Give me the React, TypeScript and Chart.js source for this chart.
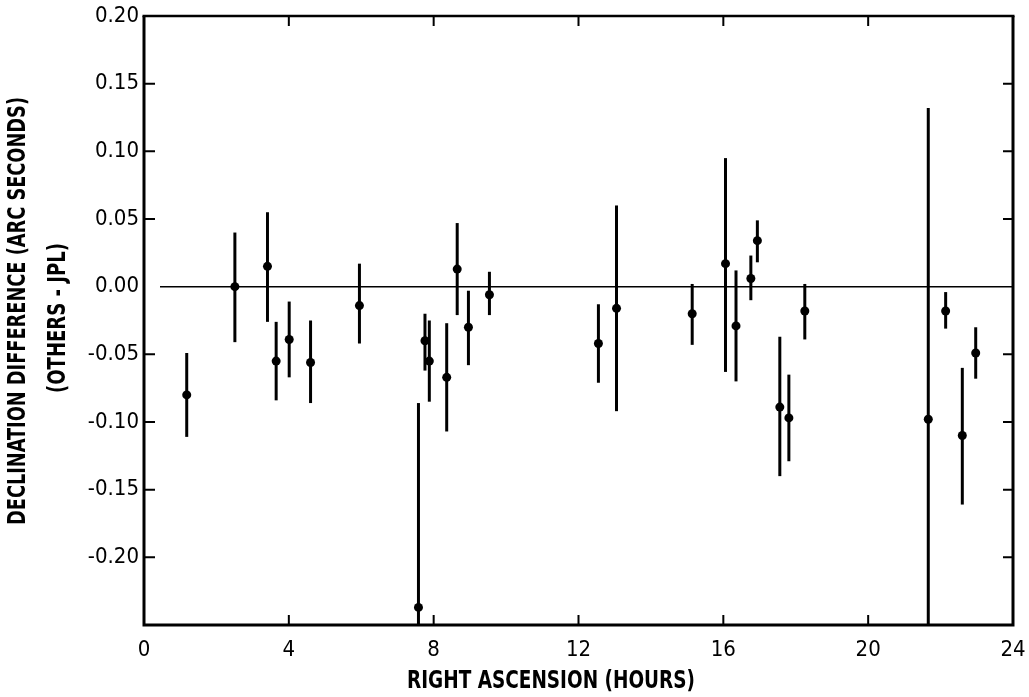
import React, { useEffect, useRef } from "react";
import { Chart, registerables } from "chart.js";

Chart.register(...registerables);

// Right ascension (hours) of each measurement
const raHours = [1.18, 2.51, 3.41, 3.65, 4.01, 4.6, 5.95, 7.58, 7.76, 7.88, 8.36, 8.65, 8.96, 9.54, 12.55, 13.05, 15.14, 16.06, 16.35, 16.76, 16.94, 17.56, 17.81, 18.25, 21.66, 22.14, 22.6, 22.97];
// Declination difference (arc seconds), others - JPL
const decDiff = [-0.08, 0.0, 0.015, -0.055, -0.039, -0.056, -0.014, -0.237, -0.04, -0.055, -0.067, 0.013, -0.03, -0.006, -0.042, -0.016, -0.02, 0.017, -0.029, 0.006, 0.034, -0.089, -0.097, -0.018, -0.098, -0.018, -0.11, -0.049];
// Error bar upper end
const errUpper = [-0.049, 0.04, 0.055, -0.026, -0.011, -0.025, 0.017, -0.086, -0.02, -0.025, -0.027, 0.047, -0.003, 0.011, -0.013, 0.06, 0.002, 0.095, 0.012, 0.023, 0.049, -0.037, -0.065, 0.002, 0.132, -0.004, -0.06, -0.03];
// Error bar lower end
const errLower = [-0.111, -0.041, -0.026, -0.084, -0.067, -0.086, -0.042, -0.25, -0.062, -0.085, -0.107, -0.021, -0.058, -0.021, -0.071, -0.092, -0.043, -0.063, -0.07, -0.01, 0.018, -0.14, -0.129, -0.039, -0.25, -0.031, -0.161, -0.068];

const xTicks = [0, 4, 8, 12, 16, 20, 24];
const yTicks = [0.2, 0.15, 0.1, 0.05, 0.0, -0.05, -0.1, -0.15, -0.2];
const yInnerTicks = [0.15, 0.1, 0.05, -0.05, -0.1, -0.15, -0.2];
const xInnerTicks = [4, 8, 12, 16, 20];

const xTitle = "RIGHT ASCENSION (HOURS)";
const yTitle1 = "DECLINATION DIFFERENCE (ARC SECONDS)";
const yTitle2 = "(OTHERS - JPL)";

const FONT = '"DejaVu Sans Condensed", "Liberation Sans Narrow", "DejaVu Sans", sans-serif';

function fitText(ctx: CanvasRenderingContext2D, text: string, cx: number, cy: number, width: number, size: number, rot: number) {
  ctx.save();
  ctx.font = `bold ${size}px ${FONT}`;
  const w = ctx.measureText(text).width;
  ctx.translate(cx, cy);
  ctx.rotate(rot);
  ctx.scale(width / w, 1);
  ctx.textAlign = "center";
  ctx.textBaseline = "middle";
  ctx.fillStyle = "#000";
  ctx.fillText(text, 0, 0);
  ctx.restore();
}

const framePlugin = {
  id: "framePlugin",
  beforeDatasetsDraw(chart: any) {
    const { ctx, chartArea, scales } = chart;
    const { left, right, top, bottom } = chartArea;
    const xs = scales.x;
    const ys = scales.y;
    ctx.save();
    ctx.strokeStyle = "#000";
    // zero line
    ctx.lineWidth = 1.5;
    ctx.beginPath();
    ctx.moveTo(left + 16, ys.getPixelForValue(0));
    ctx.lineTo(right, ys.getPixelForValue(0));
    ctx.stroke();
    // error bars
    ctx.lineWidth = 3;
    ctx.beginPath();
    ctx.rect(left, top, right - left, bottom - top);
    ctx.clip();
    for (let i = 0; i < raHours.length; i++) {
      const px = xs.getPixelForValue(raHours[i]);
      ctx.beginPath();
      ctx.moveTo(px, ys.getPixelForValue(errUpper[i]));
      ctx.lineTo(px, ys.getPixelForValue(errLower[i]));
      ctx.stroke();
    }
    ctx.restore();

    ctx.save();
    ctx.strokeStyle = "#000";
    ctx.lineWidth = 3;
    ctx.beginPath();
    ctx.moveTo(left, top);
    ctx.lineTo(left, bottom);
    ctx.lineTo(right, bottom);
    ctx.lineTo(right, top);
    ctx.stroke();
    ctx.lineWidth = 2.5;
    ctx.beginPath();
    ctx.moveTo(left - 1.5, top);
    ctx.lineTo(right + 1.5, top);
    ctx.stroke();
    ctx.lineWidth = 2;
    ctx.beginPath();
    for (const v of yInnerTicks) {
      const py = ys.getPixelForValue(v);
      ctx.moveTo(left, py);
      ctx.lineTo(left + 11, py);
      ctx.moveTo(right, py);
      ctx.lineTo(right - 10, py);
    }
    for (const v of xInnerTicks) {
      const px = xs.getPixelForValue(v);
      ctx.moveTo(px, bottom);
      ctx.lineTo(px, bottom - 10);
      ctx.moveTo(px, top);
      ctx.lineTo(px, top + 10);
    }
    ctx.stroke();
    ctx.restore();

    // titles
    fitText(ctx, xTitle, 551, 682, 288, 24, 0);
    fitText(ctx, yTitle1, 19, 311, 428, 24, -Math.PI / 2);
    fitText(ctx, yTitle2, 59, 318, 150, 24, -Math.PI / 2);
  },
};

export default function App() {
  const ref = useRef<HTMLCanvasElement>(null);
  useEffect(() => {
    document.body.style.margin = "0";
    const canvas = ref.current;
    if (!canvas) return;
    const points = raHours.map((x, i) => ({ x, y: decDiff[i] }));
    const chart = new Chart(canvas, {
      type: "scatter",
      data: {
        datasets: [
          {
            data: points,
            pointRadius: 4.5,
            pointBackgroundColor: "#000",
            pointBorderColor: "#000",
            pointBorderWidth: 0,
            showLine: false,
          },
        ],
      },
      options: {
        animation: false,
        responsive: false,
        devicePixelRatio: 1,
        layout: { padding: { left: 0, top: 16, right: 16, bottom: 0 } },
        plugins: { legend: { display: false }, tooltip: { enabled: false } },
        scales: {
          x: {
            type: "linear",
            min: 0,
            max: 24,
            afterBuildTicks: (s: any) => {
              s.ticks = xTicks.map((v) => ({ value: v }));
            },
            afterFit: (s: any) => {
              s.height = 72;
              s.paddingLeft = 0;
              s.paddingRight = 0;
            },
            grid: { display: false, drawTicks: false },
            border: { display: false },
            ticks: {
              padding: 12,
              color: "#000",
              font: { family: FONT, size: 22 },
              maxRotation: 0,
              autoSkip: false,
              callback: (v: any) => String(v),
            },
          },
          y: {
            type: "linear",
            min: -0.25,
            max: 0.2,
            afterBuildTicks: (s: any) => {
              s.ticks = yTicks.map((v) => ({ value: v }));
            },
            afterFit: (s: any) => {
              s.width = 144;
              s.paddingTop = 0;
              s.paddingBottom = 0;
            },
            grid: { display: false, drawTicks: false },
            border: { display: false },
            ticks: {
              padding: 5,
              color: "#000",
              font: { family: FONT, size: 22 },
              autoSkip: false,
              callback: (v: any) => Number(v).toFixed(2),
            },
          },
        },
      },
      plugins: [framePlugin],
    });
    return () => chart.destroy();
  }, []);
  return (
    <div style={{ position: "absolute", left: 0, top: 0, width: 1029, height: 697, background: "#fff" }}>
      <canvas ref={ref} width={1029} height={697} style={{ display: "block", width: 1029, height: 697 }} />
    </div>
  );
}
